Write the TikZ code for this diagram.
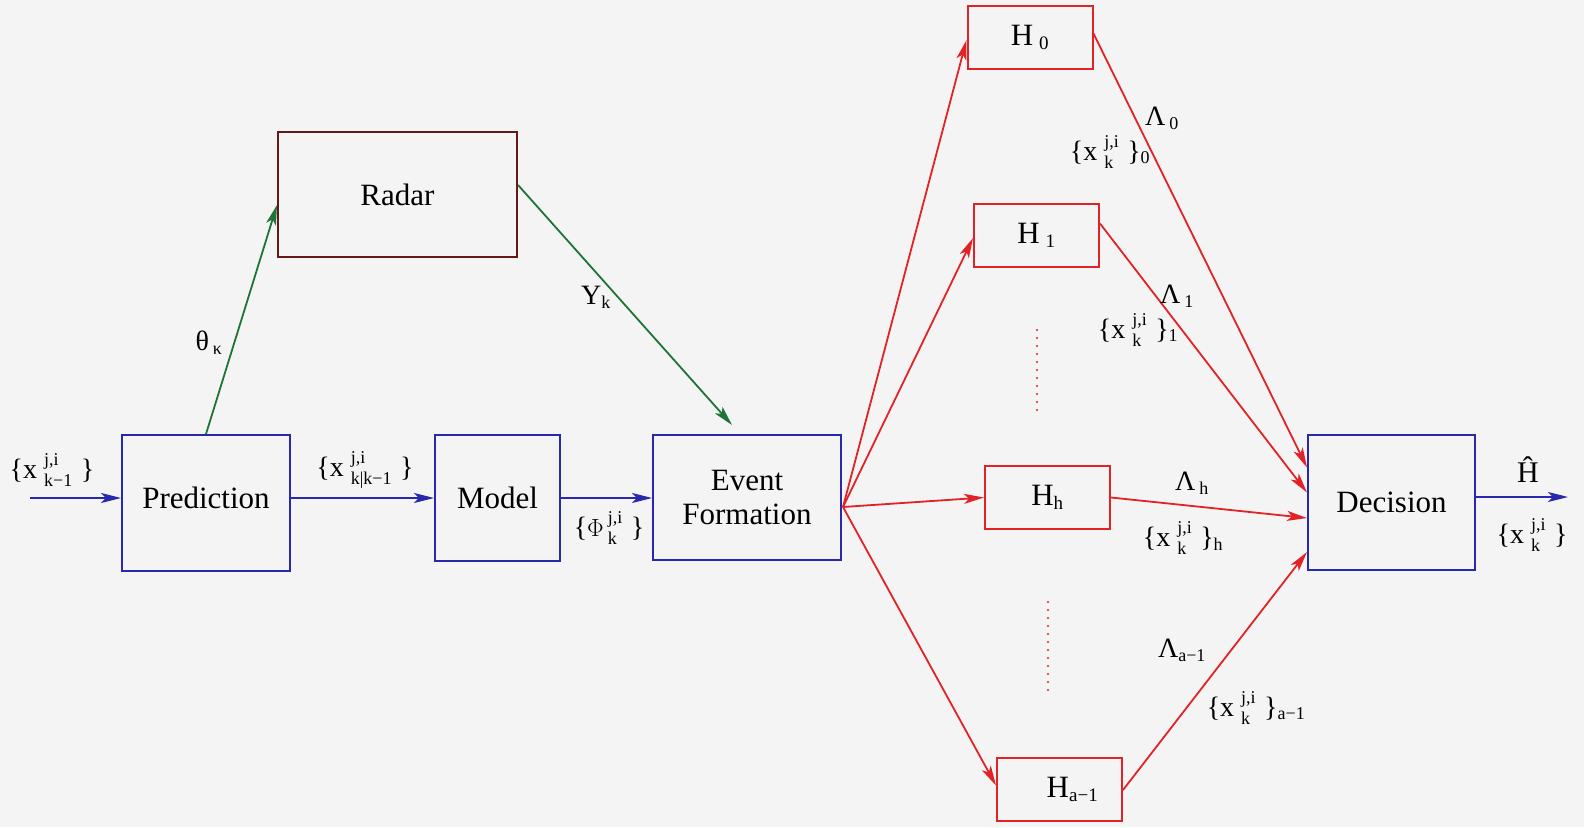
\documentclass[tikz,border=0pt]{standalone}
\usepackage{fontspec}
\setmainfont{Liberation Serif}
\usepackage{amsmath}
\usetikzlibrary{arrows.meta,calc}
\DeclareMathSizes{31}{31}{19}{14}
\DeclareMathSizes{28}{28}{18}{13}
\definecolor{bblue}{RGB}{40,40,175}
\definecolor{rred}{RGB}{225,35,40}
\definecolor{ggreen}{RGB}{30,115,55}
\definecolor{mroon}{RGB}{100,25,25}
\definecolor{bgc}{RGB}{244,244,244}
\newcommand{\xs}[2]{\{x\hspace{7pt}$^{\text{j,i}}_{\text{#1}}$\hspace{8pt}\}#2}
\begin{document}
\begin{tikzpicture}[x=1pt,y=-1pt,
  bbox/.style={draw=bblue,line width=2pt,inner sep=0pt,font={\fontsize{31}{34}\selectfont}},
  rbox/.style={draw=rred,line width=2pt,inner sep=0pt,minimum width=125pt,minimum height=63pt,font={\fontsize{31}{34}\selectfont}},
  lbl/.style={inner sep=0pt,font={\fontsize{28}{32}\selectfont}},
  tip/.style={-{Stealth[length=20pt,width=10pt,inset=5pt]}},
  barr/.style={tip,draw=bblue,fill=bblue,line width=2pt},
  rarr/.style={tip,draw=rred,line width=1.8pt},
  garr/.style={tip,draw=ggreen,line width=1.8pt},
  dotl/.style={draw=rred,line width=2.2pt,line cap=round,dash pattern=on 0pt off 8pt}]
\fill[bgc] (0,0) rectangle (1584,827);
\useasboundingbox (0,0) rectangle (1584,827);

\node[bbox,minimum width=168pt,minimum height=136pt] (pred) at (206,503) {\raisebox{10pt}{Prediction}};
\node[bbox,minimum width=125pt,minimum height=126pt] (model) at (497.5,498) {Model};
\node[bbox,minimum width=188pt,minimum height=125pt,align=center] (event) at (747,497.5) {Event\\Formation};
\node[draw=mroon,line width=2pt,inner sep=0pt,minimum width=239pt,minimum height=125pt,font={\fontsize{31}{34}\selectfont}] (radar) at (397.5,194.5) {Radar};
\node[bbox,minimum width=167pt,minimum height=135pt] (dec) at (1391.5,502.5) {\raisebox{-6pt}{Decision}};

\node[rbox] (h0) at (1030,37.5) {H\hspace{6pt}$_{\text{0}}$};
\node[rbox] (h1) at (1036.5,235.5) {H\hspace{6pt}$_{\text{1}}$};
\node[rbox] (hh) at (1047.5,497.5) {H$_{\text{h}}$};
\node[rbox] (ha) at (1059.5,789.5) {\hspace{26pt}H$_{\text{a−1}}$};

\coordinate (in) at (30,498);
\coordinate (out) at (1568,497);

\draw[barr] (in) -- (in -| pred.west);
\draw[barr] (pred.east |- in) -- (model.west |- in);
\draw[barr] (model.east |- in) -- (event.west |- in);
\draw[barr] ($(dec.east)+(0,-5.5)$) -- (out);

\draw[garr] (pred.north) -- ($(radar.west)+(0,10.5)$);
\draw[garr] ($(radar.east)+(0,-9.5)$) -- ($(event.north)+(-15,-9)$);

\coordinate (src) at ($(event.east)+(1,9.5)$);
\draw[rarr] (src) -- ($(h0.west)+(0,2.5)$);
\draw[rarr] (src) -- ($(h1.west)+(0,2.5)$);
\draw[rarr] (src) -- (hh.west);
\draw[rarr] (src) -- ($(ha.west)+(0,-4)$);

\draw[rarr] ($(h0.east)+(0,-4)$) -- ($(dec.west)+(0,-35)$);
\draw[rarr] ($(h1.east)+(0,-12)$) -- ($(dec.west)+(0,-10)$);
\draw[rarr] (hh.east) -- ($(dec.west)+(0,15.5)$);
\draw[rarr] ($(ha.east)+(0,0.5)$) -- ($(dec.west)+(0,49.5)$);

\draw[dotl] (1037,330) -- (1037,410);
\draw[dotl] (1048,602) -- (1048,690);

\node[lbl] (l1) at (52,470) {\xs{k−1}{}};
\node[lbl] (l2) at (365,470) {\xs{k|k−1}{}};
\node[lbl] (l3) at (609,528) {\{$\Phi$\hspace{4pt}$^{\text{j,i}}_{\text{k}}$\hspace{8pt}\}};
\node[lbl] (l4) at (209,343) {θ\hspace{4pt}$_{\text{κ}}$};
\node[lbl] (l5) at (596,297) {Y$_{\text{k}}$};
\node[lbl] (l6) at (1162,118) {Λ\hspace{4pt}$_{\text{0}}$};
\node[lbl] (l7) at (1110,152) {\xs{k}{$_{\text{0}}$}};
\node[lbl] (l8) at (1177,296) {Λ\hspace{4pt}$_{\text{1}}$};
\node[lbl] (l9) at (1138,330) {\xs{k}{$_{\text{1}}$}};
\node[lbl] (l10) at (1192,483) {Λ\hspace{4pt}$_{\text{h}}$};
\node[lbl] (l11) at (1183,538) {\xs{k}{$_{\text{h}}$}};
\node[lbl] (l12) at (1182,650) {Λ$_{\text{a−1}}$};
\node[lbl] (l13) at (1256,708) {\xs{k}{$_{\text{a−1}}$}};
\node[lbl,font={\fontsize{30}{32}\selectfont}] (l14) at (1528,470) {\^{H}};
\node[lbl] (l15) at (1532,535) {\xs{k}{}};
\end{tikzpicture}
\end{document}
